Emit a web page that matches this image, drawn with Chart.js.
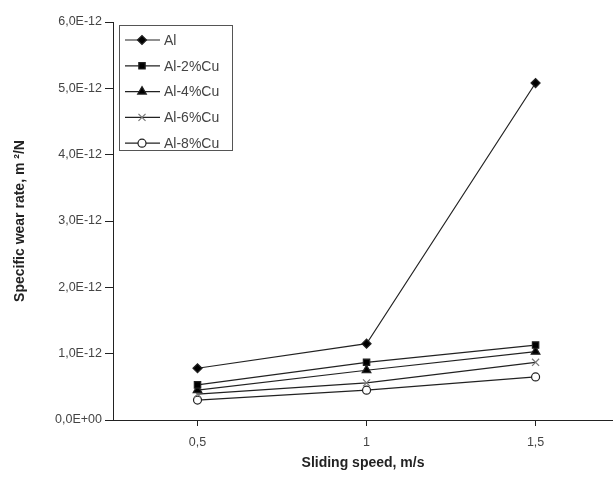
<!DOCTYPE html>
<html lang="en">
  <head>
    <meta charset="utf-8" />
    <title>Specific wear rate</title>
    <script src="https://cdn.jsdelivr.net/npm/chart.js"></script>
    <style>
      html, body { margin: 0; padding: 0; background: #fff; }
      #wrap { width: 613px; height: 479px; }
    </style>
  </head>
  <body>
    <div id="wrap"><canvas id="myChart" width="613" height="479"></canvas></div>
    <script>
      // sliding speed, m/s
      var speeds = [0.5, 1, 1.5];
      var speedLabels = ["0,5", "1", "1,5"];
      var seriesNames = ["Al", "Al-2%Cu", "Al-4%Cu", "Al-6%Cu", "Al-8%Cu"];
      // specific wear rate, in units of 1E-12 m2/N
      var al = [0.78, 1.15, 5.08];
      var al2cu = [0.53, 0.87, 1.13];
      var al4cu = [0.45, 0.75, 1.03];
      var al6cu = [0.39, 0.56, 0.87];
      var al8cu = [0.30, 0.45, 0.65];
      var yTicks = [0, 1, 2, 3, 4, 5, 6];

      var FONT = "'Liberation Sans', Arial, sans-serif";
      var INK = "#222";

      function pts(vals) {
        return vals.map(function (v, i) { return { x: speeds[i], y: v }; });
      }

      function series(name, vals, style, radius, fill, pointBorder) {
        return {
          label: name,
          data: pts(vals),
          borderColor: INK,
          borderWidth: 1.2,
          pointStyle: style,
          pointRadius: radius,
          pointBackgroundColor: fill,
          pointBorderColor: pointBorder || INK,
          pointBorderWidth: 1.2,
          tension: 0,
        };
      }

      var datasets = [
        series(seriesNames[0], al, "rectRot", 4.5, "#000"),
        series(seriesNames[1], al2cu, "rect", 4.5, "#000"),
        series(seriesNames[2], al4cu, "triangle", 5, "#000"),
        series(seriesNames[3], al6cu, "crossRot", 5, "#fff", "#777"),
        series(seriesNames[4], al8cu, "circle", 4, "#fff"),
      ];

      // legend box drawn like the original (line + marker sample)
      const boxLegend = {
        id: "boxLegend",
        afterDatasetsDraw(chart) {
          const ctx = chart.ctx;
          ctx.save();
          ctx.strokeStyle = "#555";
          ctx.lineWidth = 1;
          ctx.strokeRect(119.5, 25.5, 113, 125);
          chart.data.datasets.forEach(function (ds, i) {
            const y = 40 + i * 25.8;
            ctx.strokeStyle = INK;
            ctx.lineWidth = 1.2;
            ctx.beginPath();
            ctx.moveTo(125, y);
            ctx.lineTo(160, y);
            ctx.stroke();
            ctx.fillStyle = ds.pointBackgroundColor;
            ctx.strokeStyle = ds.pointBorderColor;
            Chart.helpers.drawPoint(ctx, {
              pointStyle: ds.pointStyle,
              radius: ds.pointRadius,
              borderWidth: 1.2,
              rotation: 0,
            }, 142, y);
            ctx.fillStyle = "#444";
            ctx.font = "14px " + FONT;
            ctx.textBaseline = "middle";
            ctx.textAlign = "left";
            ctx.fillText(ds.label, 164, y + 1);
          });
          ctx.restore();
        },
      };

      const config = {
        type: "line",
        data: { datasets: datasets },
        options: {
          responsive: false,
          animation: false,
          layout: { autoPadding: false, padding: { top: 22, right: 0, left: 0, bottom: 0 } },
          plugins: { legend: { display: false }, tooltip: { enabled: false } },
          scales: {
            x: {
              type: "linear",
              min: 0.25,
              max: 1.729,
              afterBuildTicks: function (scale) {
                scale.ticks = speeds.map(function (v) { return { value: v }; });
              },
              afterFit: function (scale) {
                scale.height = 59;
                scale.paddingLeft = 0;
                scale.paddingRight = 0;
              },
              border: { display: true, color: INK, width: 1 },
              grid: { drawOnChartArea: false, tickLength: 6, color: INK },
              ticks: {
                padding: 9,
                color: "#444",
                font: { family: FONT, size: 12.5 },
                callback: function (v) {
                  const i = speeds.indexOf(v);
                  return i >= 0 ? speedLabels[i] : "";
                },
              },
              title: {
                display: true,
                text: "Sliding speed, m/s",
                color: INK,
                font: { family: FONT, size: 14, weight: "bold" },
                padding: { top: 0, bottom: 7.5 },
              },
            },
            y: {
              min: 0,
              max: 6,
              afterBuildTicks: function (scale) {
                scale.ticks = yTicks.map(function (v) { return { value: v }; });
              },
              afterFit: function (scale) {
                scale.width = 113;
                scale.paddingTop = 0;
                scale.paddingBottom = 0;
              },
              border: { display: true, color: INK, width: 1 },
              grid: { drawOnChartArea: false, tickLength: 8, color: INK },
              ticks: {
                padding: 3,
                color: "#444",
                font: { family: FONT, size: 12.5 },
                callback: function (v) {
                  return v === 0 ? "0,0E+00" : v.toFixed(1).replace(".", ",") + "E-12";
                },
              },
              title: {
                display: true,
                text: "Specific wear rate, m ²/N",
                color: INK,
                font: { family: FONT, size: 14, weight: "bold" },
                padding: { top: 11.5, bottom: 0 },
              },
            },
          },
        },
        plugins: [boxLegend],
      };

      var myChart = new Chart(document.getElementById("myChart"), config);
    </script>
  </body>
</html>
